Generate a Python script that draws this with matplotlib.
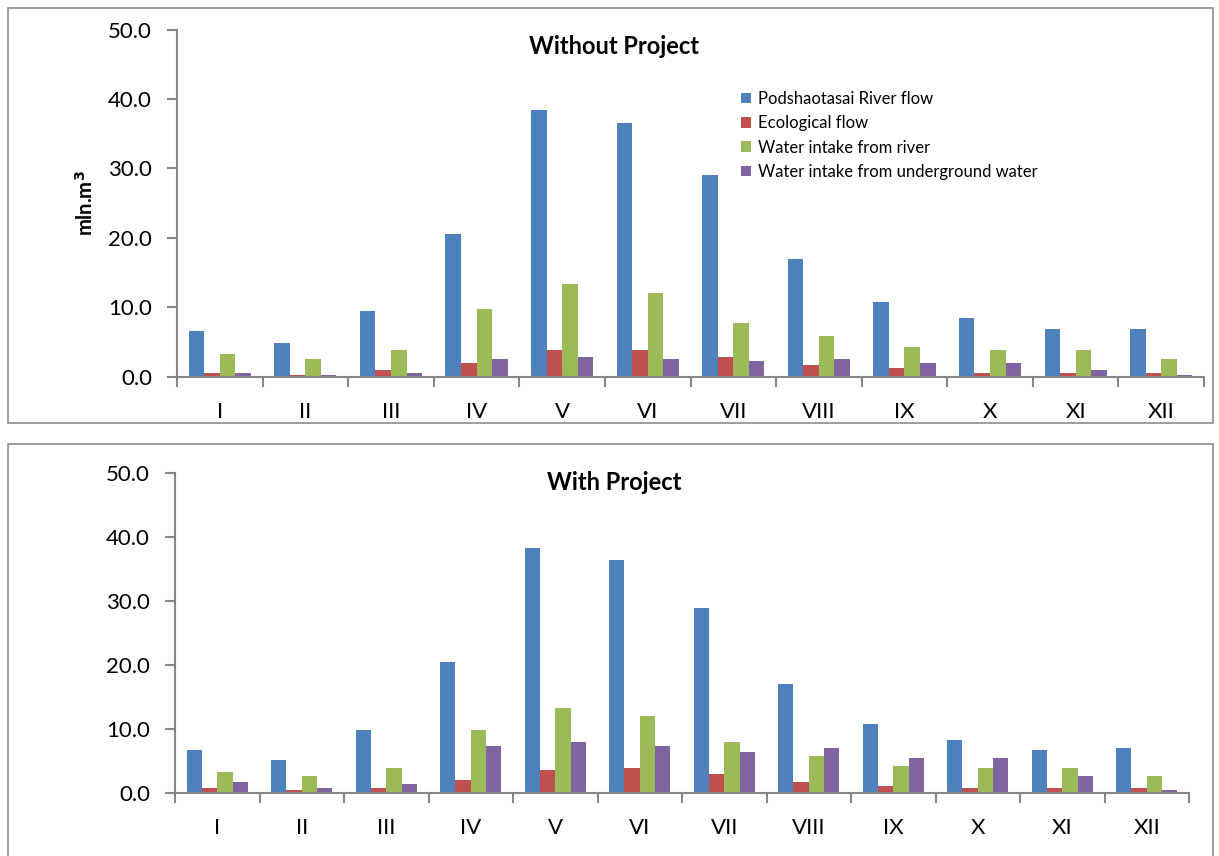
import matplotlib
matplotlib.use("Agg")
import matplotlib.pyplot as plt
from matplotlib.patches import Rectangle
import numpy as np

plt.rcParams['font.family'] = ['Lato', 'DejaVu Sans']

months = ["I", "II", "III", "IV", "V", "VI", "VII", "VIII", "IX", "X", "XI", "XII"]
series_names = [
    "Podshaotasai River flow",
    "Ecological flow",
    "Water intake from river",
    "Water intake from underground water",
]
colors = ["#4F81BD", "#C0504D", "#9BBB59", "#8064A2"]

# Without project (mln. m3)
river_flow_wo = [6.6, 4.9, 9.5, 20.5, 38.4, 36.6, 29.1, 17.0, 10.7, 8.4, 6.9, 6.9]
eco_flow_wo = [0.6, 0.3, 0.9, 2.0, 3.8, 3.8, 2.9, 1.7, 1.2, 0.6, 0.6, 0.6]
intake_river_wo = [3.2, 2.6, 3.8, 9.8, 13.3, 12.1, 7.8, 5.8, 4.3, 3.8, 3.8, 2.6]
intake_ground_wo = [0.6, 0.3, 0.6, 2.6, 2.9, 2.6, 2.3, 2.6, 2.0, 2.0, 0.9, 0.3]

# With project (mln. m3)
river_flow_w = [6.7, 5.1, 9.8, 20.4, 38.2, 36.4, 28.9, 17.0, 10.7, 8.2, 6.7, 7.0]
eco_flow_w = [0.7, 0.4, 0.7, 2.0, 3.5, 3.9, 2.9, 1.7, 1.0, 0.7, 0.7, 0.7]
intake_river_w = [3.2, 2.6, 3.9, 9.8, 13.2, 12.0, 7.9, 5.7, 4.2, 3.9, 3.9, 2.6]
intake_ground_w = [1.7, 0.7, 1.4, 7.3, 7.9, 7.3, 6.4, 7.0, 5.4, 5.4, 2.6, 0.4]

W, H = 1219, 856
fig = plt.figure(figsize=(W / 100, H / 100), dpi=100)

AXIS_GREY = "#868686"

# outer frames of the two chart areas
for (x0, y0, x1, y1) in [(8, 8, 1213, 423), (8, 444, 1213, 870)]:
    fig.patches.append(Rectangle((x0 / W, 1 - y1 / H), (x1 - x0) / W, (y1 - y0) / H,
                                 transform=fig.transFigure, fill=False,
                                 edgecolor="#8C8C8C", linewidth=1.2, zorder=0))


def px_axes(left, top, right, bottom):
    return fig.add_axes([left / W, 1 - bottom / H, (right - left) / W, (bottom - top) / H])


def draw_panel(ax, data, title, title_y):
    x = np.arange(len(months))
    bw = 1 / 5.5
    for k, (vals, col, name) in enumerate(zip(data, colors, series_names)):
        ax.bar(x + (k - 1.5) * bw, vals, width=bw, color=col, label=name, zorder=2)
    ax.set_xlim(-0.5, len(months) - 0.5)
    ax.set_ylim(0, 50)
    ax.set_yticks(np.arange(0, 51, 10))
    ax.set_yticklabels([f"{v:.1f}" for v in np.arange(0, 51, 10)], fontsize=16)
    ax.set_xticks(x)
    ax.set_xticklabels(months, fontsize=16)
    ax.set_xticks(np.arange(-0.5, len(months)), minor=True)
    ax.tick_params(axis="x", which="major", length=0, pad=18)
    ax.tick_params(axis="x", which="minor", length=7, width=1.5, color=AXIS_GREY, direction="out")
    ax.tick_params(axis="y", length=7, width=1.5, color=AXIS_GREY, direction="out", pad=11)
    for s in ["top", "right"]:
        ax.spines[s].set_visible(False)
    for s in ["left", "bottom"]:
        ax.spines[s].set_color(AXIS_GREY)
        ax.spines[s].set_linewidth(1.5)
    ax.set_facecolor("none")
    fig.text(0.504, 1 - title_y / H, title, ha="center", va="center",
             fontsize=17, fontweight="bold")


ax1 = px_axes(177, 29.5, 1204, 376.7)
draw_panel(ax1, [river_flow_wo, eco_flow_wo, intake_river_wo, intake_ground_wo],
           "Without Project", 46)
ax1.set_ylabel("mln.m$^\\mathbf{3}$", fontsize=14.5, fontweight="bold", labelpad=8)
ax1.legend(loc="upper left", bbox_to_anchor=(741 / W, 1 - 91 / H),
           bbox_transform=fig.transFigure, frameon=False, fontsize=12,
           handlelength=0.6, handleheight=0.6, handletextpad=0.45,
           labelspacing=0.5, borderpad=0, borderaxespad=0)

ax2 = px_axes(175, 472.7, 1189, 792.7)
draw_panel(ax2, [river_flow_w, eco_flow_w, intake_river_w, intake_ground_w],
           "With Project", 482)

fig.savefig("out.png", dpi=100, facecolor="white")
